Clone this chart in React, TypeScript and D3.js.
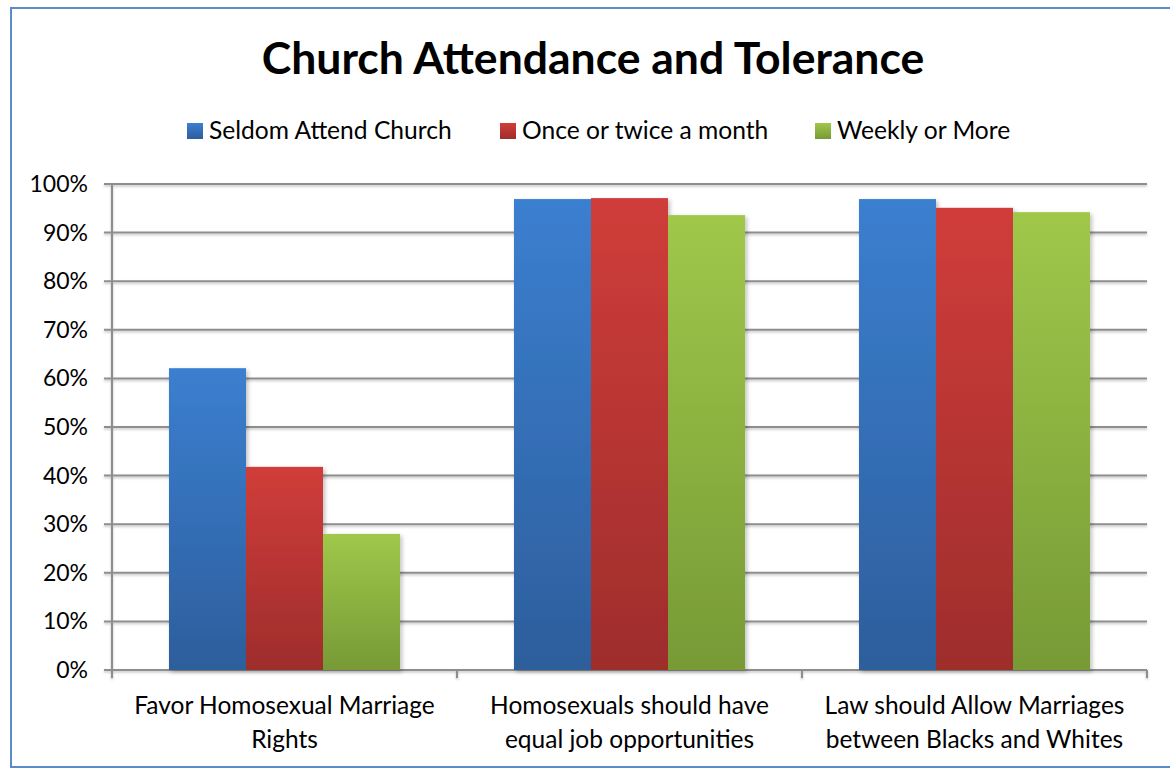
import React from "react";
import * as d3 from "d3";

const categories = [
  ["Favor Homosexual Marriage", "Rights"],
  ["Homosexuals should have", "equal job opportunities"],
  ["Law should Allow Marriages", "between Blacks and Whites"],
];
const seriesNames = ["Seldom Attend Church", "Once or twice a month", "Weekly or More"];
const seldom = [0.621, 0.969, 0.969];
const monthly = [0.418, 0.971, 0.951];
const weekly = [0.28, 0.936, 0.942];
const yTicks = [0, 0.1, 0.2, 0.3, 0.4, 0.5, 0.6, 0.7, 0.8, 0.9, 1.0];

const gradients = [
  { id: "gBlue", top: "#3b7fd0", bottom: "#2d5e9c" },
  { id: "gRed", top: "#d03d3a", bottom: "#9e2d2c" },
  { id: "gGreen", top: "#9fc84a", bottom: "#779a36" },
];

const FONT = "Lato, 'Open Sans', sans-serif";

export default function App() {
  const W = 1170;
  const H = 769;
  const left = 112;
  const right = 1147;
  const top = 184;
  const bottom = 670;
  const series = [seldom, monthly, weekly];

  const x0 = d3
    .scaleBand<number>()
    .domain(categories.map((_, i) => i))
    .range([left, right])
    .paddingInner(0)
    .paddingOuter(0);
  const x1 = d3
    .scaleBand<number>()
    .domain([0, 1, 2])
    .range([0, x0.bandwidth()])
    .paddingInner(0)
    .paddingOuter(0.74);
  const y = d3.scaleLinear().domain([0, 1]).range([bottom, top]);
  const fmt = d3.format(".0%");

  const legendX = [187, 500, 815];

  return (
    <svg
      width={W}
      height={H}
      style={{ position: "absolute", left: 0, top: 0, background: "#fff" }}
    >
      <defs>
        {gradients.map((g) => (
          <linearGradient key={g.id} id={g.id} x1="0" y1="0" x2="0" y2="1">
            <stop offset="0" stopColor={g.top} />
            <stop offset="1" stopColor={g.bottom} />
          </linearGradient>
        ))}
        <filter id="shadow" x="-10%" y="-10%" width="130%" height="130%">
          <feDropShadow dx="2" dy="2" stdDeviation="2" floodColor="#000" floodOpacity="0.25" />
        </filter>
        <filter id="lineShadow" x="-5%" y="-50%" width="110%" height="300%">
          <feDropShadow dx="0" dy="1.5" stdDeviation="0.8" floodColor="#000" floodOpacity="0.25" />
        </filter>
      </defs>
      <rect x={0} y={0} width={W} height={H} fill="#fff" />
      <rect x={11} y={8} width={W + 20} height={759} fill="none" stroke="#5b8cc8" strokeWidth={2} />

      <text
        x={593}
        y={74}
        textAnchor="middle"
        fontFamily={FONT}
        fontWeight="bold"
        fontSize={44.5}
        fill="#000"
      >
        Church Attendance and Tolerance
      </text>

      {seriesNames.map((name, i) => (
        <g key={name}>
          <rect
            x={legendX[i]}
            y={123}
            width={16}
            height={16}
            fill={`url(#${gradients[i].id})`}
          />
          <text
            x={legendX[i] + 22}
            y={139}
            fontFamily={FONT}
            fontSize={24.6}
            fill="#000"
          >
            {name}
          </text>
        </g>
      ))}

      {/* gridlines */}
      <g filter="url(#lineShadow)">
        {yTicks.map((t) => (
          <line
            key={t}
            x1={left - 8}
            x2={right}
            y1={y(t)}
            y2={y(t)}
            stroke="#8e8e8e"
            strokeWidth={2}
          />
        ))}
        <line x1={left} x2={left} y1={top} y2={bottom + 8} stroke="#8e8e8e" strokeWidth={2} />
        {[0, 1, 2, 3].map((i) => {
          const xv = i < 3 ? (x0(i) as number) : right;
          return (
            <line key={i} x1={xv} x2={xv} y1={bottom} y2={bottom + 8} stroke="#8e8e8e" strokeWidth={2} />
          );
        })}
      </g>

      {yTicks.map((t) => (
        <text
          key={t}
          x={88}
          y={y(t)}
          dy="0.35em"
          textAnchor="end"
          fontFamily={FONT}
          fontSize={23}
          fill="#000"
        >
          {fmt(t)}
        </text>
      ))}

      {/* bars */}
      <g filter="url(#shadow)">
        {categories.map((_, ci) =>
          series.map((vals, si) => {
            const bx = (x0(ci) as number) + (x1(si) as number);
            return (
              <rect
                key={`${ci}-${si}`}
                x={bx}
                y={y(vals[ci])}
                width={x1.bandwidth()}
                height={bottom - y(vals[ci])}
                fill={`url(#${gradients[si].id})`}
              />
            );
          })
        )}
      </g>

      {categories.map((lines, ci) => {
        const cx = (x0(ci) as number) + x0.bandwidth() / 2;
        return (
          <text
            key={ci}
            x={cx}
            textAnchor="middle"
            fontFamily={FONT}
            fontSize={24.5}
            fill="#000"
          >
            {lines.map((ln, li) => (
              <tspan key={li} x={cx} y={714 + li * 34}>
                {ln}
              </tspan>
            ))}
          </text>
        );
      })}
    </svg>
  );
}
